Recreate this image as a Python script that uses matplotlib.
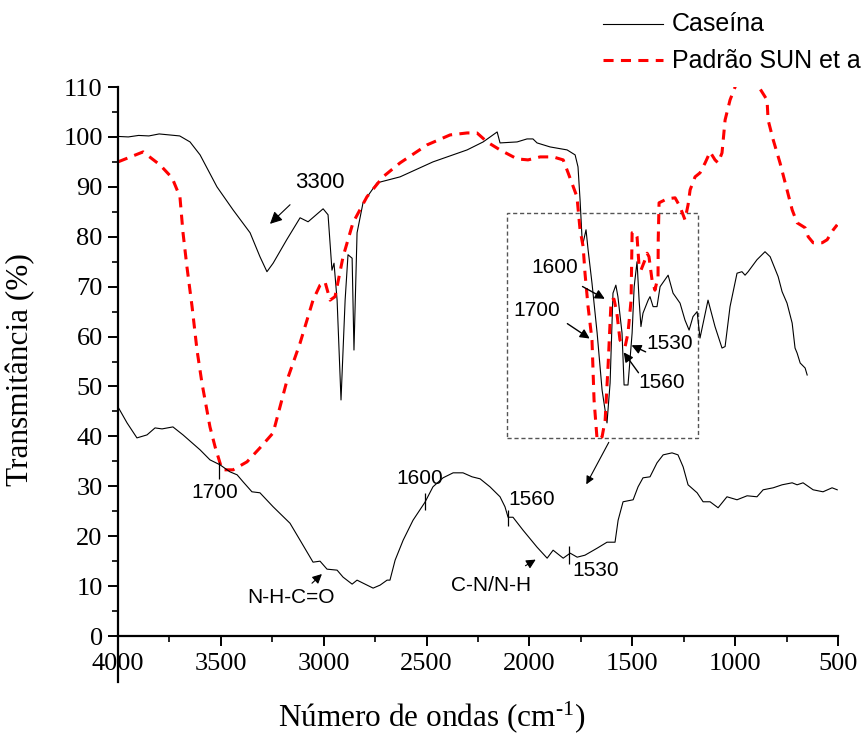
import matplotlib
matplotlib.use("Agg")
import matplotlib.pyplot as plt
from matplotlib.lines import Line2D
from matplotlib.patches import Rectangle

serif = "Liberation Serif"
sans = "Liberation Sans"
plt.rcParams["font.family"] = serif
plt.rcParams["mathtext.fontset"] = "custom"
plt.rcParams["mathtext.rm"] = serif
plt.rcParams["mathtext.it"] = serif + ":italic"

# ---- data ----
caseina_x = [4000, 3950, 3900, 3850, 3800, 3750, 3700, 3650, 3601, 3519, 3441, 3358, 3310,
             3276, 3246, 3180, 3115, 3076, 3003, 2979, 2960, 2950, 2935, 2916, 2896, 2882,
             2862, 2853, 2838, 2809, 2741, 2629, 2469, 2303, 2225, 2157, 2143, 2060, 2012,
             1983, 1963, 1900, 1817, 1778, 1764, 1754, 1744, 1739, 1725, 1715, 1696, 1671,
             1647, 1623, 1608, 1594, 1580, 1570, 1550, 1540, 1521, 1501, 1491, 1477, 1467,
             1458, 1448, 1423, 1414, 1399, 1380, 1365, 1331, 1326, 1302, 1268, 1244, 1224,
             1205, 1185, 1171, 1132, 1098, 1064, 1049, 1025, 991, 967, 952, 937, 894, 855,
             830, 791, 772, 748, 723, 709, 699, 684, 660, 650]
caseina_y = [100.1, 100.0, 100.3, 100.2, 100.6, 100.4, 100.2, 99.0, 96.4, 90.0, 85.4, 80.8, 76.0,
             73.0, 74.7, 79.4, 83.8, 83.0, 85.6, 84.4, 73.3, 74.7, 67.3, 47.3, 67.3, 76.4,
             75.7, 57.3, 80.8, 86.8, 90.8, 92.0, 95.0, 97.4, 99.0, 101.0, 98.8, 99.0, 99.6,
             99.6, 98.8, 98.0, 97.4, 96.4, 94.0, 87.4, 79.4, 78.8, 81.4, 77.4, 70.7, 60.7,
             49.3, 42.7, 50.7, 68.7, 70.3, 68.0, 60.7, 50.3, 50.3, 60.7, 70.0, 75.0, 67.3,
             62.0, 64.7, 67.3, 68.0, 66.0, 66.0, 70.0, 72.0, 72.3, 68.7, 66.7, 63.3, 61.3,
             64.0, 65.0, 59.7, 67.3, 62.0, 57.7, 58.0, 66.0, 72.7, 73.0, 72.3, 73.0, 75.4, 77.0,
             76.0, 72.0, 69.0, 66.7, 62.7, 57.7, 56.7, 54.7, 53.7, 52.3]

sun_x = [4000, 3878, 3796, 3737, 3699, 3684, 3665, 3640, 3616, 3592, 3553, 3528, 3494, 3441,
         3373, 3310, 3246, 3178, 3115, 3052, 3018, 2994, 2969, 2945, 2906, 2858, 2790, 2712,
         2629, 2498, 2386, 2303, 2255, 2206, 2143, 2060, 2007, 1948, 1885, 1836, 1812, 1769,
         1754, 1739, 1730, 1715, 1696, 1686, 1671, 1647, 1632, 1618, 1603, 1589, 1575, 1560,
         1535, 1521, 1506, 1501, 1487, 1477, 1467, 1458, 1438, 1428, 1419, 1404, 1390, 1375,
         1374, 1370, 1331, 1292, 1268, 1244, 1229, 1219, 1195, 1171, 1146, 1122, 1098, 1083,
         1064, 1049, 1025, 991, 900, 845, 840, 815, 782, 748, 723, 699, 660, 645, 621, 577,
         553, 523, 504]
sun_y = [95.0, 97.0, 94.4, 91.8, 88.0, 80.8, 74.0, 66.0, 57.3, 50.7, 41.9, 37.9, 33.3, 33.3,
         34.9, 37.7, 40.7, 51.3, 58.7, 67.3, 70.3, 71.0, 67.3, 68.0, 76.0, 82.8, 88.0, 92.0,
         94.8, 98.4, 100.4, 100.8, 100.8, 99.0, 97.4, 95.6, 95.4, 96.0, 96.0, 95.4, 92.8, 88.0,
         81.4, 78.0, 72.7, 66.0, 59.3, 47.3, 39.3, 39.9, 43.3, 54.0, 67.3, 67.5, 64.7, 59.3,
         58.0, 60.7, 67.3, 80.8, 81.0, 80.0, 74.0, 73.3, 75.4, 76.7, 76.0, 71.3, 69.3, 72.0,
         79.4, 86.8, 87.6, 87.8, 86.0, 83.4, 86.4, 89.4, 92.0, 92.8, 94.8, 97.0, 95.4, 94.8,
         96.8, 103.4, 107.4, 111.0, 111.0, 107.4, 103.4, 99.4, 94.8, 89.4, 85.4, 82.8, 81.8,
         80.0, 78.8, 78.8, 79.4, 81.4, 82.4]

zoom_x = [4000, 3956, 3908, 3859, 3820, 3786, 3733, 3684, 3601, 3553, 3504, 3456, 3421, 3392,
          3349, 3310, 3246, 3164, 3115, 3052, 3018, 2984, 2935, 2906, 2862, 2838, 2809, 2760,
          2726, 2692, 2678, 2653, 2614, 2566, 2508, 2469, 2420, 2371, 2323, 2279, 2240, 2192,
          2143, 2119, 2104, 2080, 2031, 1963, 1914, 1885, 1836, 1802, 1768, 1730, 1671, 1623,
          1584, 1569, 1545, 1496, 1472, 1448, 1414, 1380, 1350, 1307, 1278, 1253, 1229, 1185,
          1156, 1122, 1083, 1040, 991, 942, 894, 864, 815, 772, 723, 699, 670, 621, 573, 529, 504]
zoom_y = [45.9, 42.7, 39.7, 40.3, 41.7, 41.5, 41.9, 40.3, 37.3, 35.3, 34.3, 32.9, 32.3, 30.9,
          28.9, 28.7, 25.9, 22.6, 19.2, 14.8, 15.0, 13.4, 13.2, 11.8, 10.4, 11.2, 10.6, 9.6,
          10.2, 11.2, 11.2, 15.2, 19.2, 23.2, 26.8, 29.9, 31.7, 32.7, 32.7, 31.9, 31.5, 29.9,
          27.9, 25.9, 23.8, 23.8, 21.2, 17.8, 15.6, 17.2, 15.6, 16.6, 15.8, 16.2, 17.6, 18.8,
          18.8, 23.2, 26.9, 27.3, 29.9, 31.7, 31.9, 34.7, 36.3, 36.7, 36.3, 33.9, 30.3, 28.7,
          26.9, 26.9, 25.7, 27.9, 27.3, 28.1, 27.9, 29.3, 29.7, 30.3, 30.7, 30.3, 30.7, 29.3,
          28.9, 29.7, 29.3]

# marked bands on the lower (expanded) trace
band_labels = ["1700", "1600", "1560", "1530"]
band_x = [3509, 2508, 2104, 1807]
band_y0 = [31.5, 25.3, 22.0, 14.4]
band_y1 = [34.9, 28.7, 25.3, 18.0]
band_tx = [3528, 2532, 1988, 1676]
band_ty = [28.7, 31.5, 27.3, 13.2]

# arrows on the upper trace: label, text position, arrow tail, arrow head
peak_labels = ["1600", "1700", "1530", "1560"]
peak_text = [(1876, 73.9), (1963, 65.3), (1317, 58.7), (1356, 50.7)]
peak_tail = [(1754, 70.3), (1827, 62.9), (1423, 56.7), (1462, 52.3)]
peak_head = [(1622, 67.3), (1696, 59.3), (1516, 58.5), (1550, 57.3)]

fig = plt.figure(figsize=(8.62, 7.40), dpi=100)
ax = fig.add_axes([0.1369, 0.1405, 0.8353, 0.7419])

ax.plot(caseina_x, caseina_y, color="black", lw=0.8)
ax.plot(sun_x, sun_y, color="red", lw=2.2, linestyle=(0, (3.3, 2.4)))
ax.plot(zoom_x, zoom_y, color="black", lw=0.8)

ax.set_xlim(4000, 500)
ax.set_ylim(0, 110)
ax.set_xticks(range(4000, 499, -500))
ax.set_xticks(range(3750, 500, -500), minor=True)
ax.set_yticks(range(0, 111, 10))
ax.set_yticks(range(5, 110, 10), minor=True)

for s in ["top", "right"]:
    ax.spines[s].set_visible(False)
for s in ["left", "bottom"]:
    ax.spines[s].set_linewidth(1.6)
ax.spines["left"].set_bounds(-9.2, 110)

ax.tick_params(which="major", direction="out", length=7, width=1.4, pad=5, labelsize=19)
ax.tick_params(which="minor", direction="out", length=4, width=1.2)
ax.tick_params(axis="y", pad=4)

ax.set_xlabel(r"Número de ondas (cm$^{\text{-1}}$)", fontsize=22.5)
ax.set_ylabel("Transmitância (%)", fontsize=22.5)
ax.xaxis.set_label_coords(0.435, -0.115)
ax.yaxis.set_label_coords(-0.115, 0.485)

# dashed box marking the expanded region
ax.add_patch(Rectangle((2109, 39.7), 1180 - 2109, 84.8 - 39.7, fill=False,
                       edgecolor="#555555", lw=1.0, linestyle=(0, (3, 2))))
ax.annotate("", xy=(1730, 29.9), xytext=(1608, 39.3),
            arrowprops=dict(arrowstyle="-|>", color="black", lw=0.8, mutation_scale=12))

# 3300 label
ax.annotate("", xy=(3271, 82.2), xytext=(3154, 86.8),
            arrowprops=dict(arrowstyle="-|>", color="black", lw=0.8, mutation_scale=18))
ax.text(3018, 90.8, "3300", fontfamily=sans, fontsize=16, ha="center", va="center")

for lab, t, tl, hd in zip(peak_labels, peak_text, peak_tail, peak_head):
    ax.annotate("", xy=hd, xytext=tl,
                arrowprops=dict(arrowstyle="-|>", color="black", lw=1.0, mutation_scale=14))
    ax.text(t[0], t[1], lab, fontfamily=sans, fontsize=15, ha="center", va="center")

ax.vlines(band_x, band_y0, band_y1, color="black", lw=0.9)
for lab, tx, ty in zip(band_labels, band_tx, band_ty):
    ax.text(tx, ty, lab, fontfamily=sans, fontsize=15, ha="center", va="center")

ax.annotate("", xy=(2999, 12.8), xytext=(3067, 10.2),
            arrowprops=dict(arrowstyle="-|>", color="black", lw=0.8, mutation_scale=14))
ax.text(3159, 7.8, "N-H-C=O", fontfamily=sans, fontsize=15, ha="center", va="center")
ax.annotate("", xy=(1958, 15.6), xytext=(2031, 13.8),
            arrowprops=dict(arrowstyle="-|>", color="black", lw=0.8, mutation_scale=14))
ax.text(2187, 10.2, "C-N/N-H", fontfamily=sans, fontsize=15, ha="center", va="center")

# legend drawn in figure space so that it runs off the right edge like the original
fig.add_artist(Line2D([603 / 862, 663 / 862], [1 - 24 / 740, 1 - 24 / 740],
                      color="black", lw=0.8))
fig.add_artist(Line2D([603 / 862, 663 / 862], [1 - 60 / 740, 1 - 60 / 740],
                      color="red", lw=2.2, linestyle=(0, (3.3, 2.4))))
fig.text(672 / 862, 1 - 24 / 740, "Caseína", fontfamily=sans, fontsize=18, va="center")
fig.text(672 / 862, 1 - 61 / 740, "Padrão SUN et al.", fontfamily=sans, fontsize=18,
         va="center")

fig.savefig("out.png", dpi=100)
